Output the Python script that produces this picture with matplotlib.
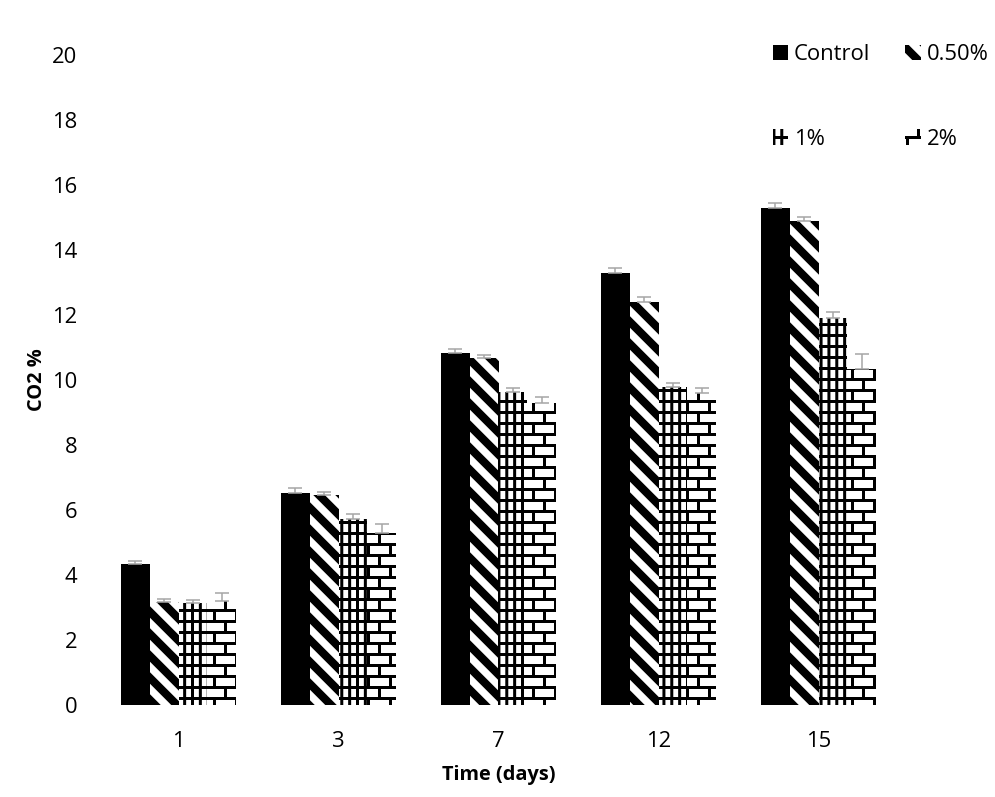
import warnings
import numpy as np
import matplotlib
matplotlib.use("Agg")
import matplotlib.pyplot as plt
import matplotlib.hatch as mhatch
from matplotlib.path import Path

warnings.filterwarnings("ignore")

# data
days = ["1", "3", "7", "12", "15"]
series = ["Control", "0.50%", "1%", "2%"]
control = [4.34, 6.52, 10.83, 13.3, 15.3]
pct050 = [3.17, 6.46, 10.68, 12.4, 14.9]
pct1 = [3.13, 5.72, 9.63, 9.8, 11.9]
pct2 = [3.2, 5.28, 9.3, 9.6, 10.35]
err_control = [0.1, 0.15, 0.12, 0.15, 0.15]
err_050 = [0.1, 0.1, 0.08, 0.15, 0.12]
err_1 = [0.1, 0.15, 0.12, 0.12, 0.2]
err_2 = [0.25, 0.3, 0.18, 0.15, 0.45]

DPI = 110


# custom hatch patterns (thick stripes, grid, bricks)
def make_hatch(char, segs):
    segs = np.asarray(segs, dtype=float)

    class _Hatch(mhatch.HatchPatternBase):
        def __init__(self, hatch, density):
            self.num_vertices = len(segs) * 2 if char in hatch else 0

        def set_vertices_and_codes(self, vertices, codes):
            vertices[:] = segs.reshape(-1, 2)
            codes[0::2] = Path.MOVETO
            codes[1::2] = Path.LINETO

    mhatch._hatch_types.append(_Hatch)


stripes = []
for k in range(-1, 12):
    for off in (-0.033, -0.011, 0.011, 0.033):
        c = 0.2 * k + off
        stripes.append([[-0.5, c + 0.5], [1.5, c - 1.5]])
make_hatch("s", stripes)

grid = []
for i in range(14):
    xv = (i + 0.5) / 14
    grid.append([[xv, -0.1], [xv, 1.1]])
for j in range(10):
    yv = (j + 0.5) / 10
    grid.append([[-0.1, yv], [1.1, yv]])
make_hatch("g", grid)

bricks = []
for j in range(-1, 10):
    y0 = (j + 0.5) / 10
    y1 = (j + 1.5) / 10
    if j >= 0:
        bricks.append([[-0.1, y0], [1.1, y0]])
    for m in range(-1, 6):
        xv = (m + 0.25 + 0.5 * (j % 2)) / 5
        bricks.append([[xv, y0], [xv, y1]])
make_hatch("b", bricks)

plt.rcParams["font.family"] = ["Open Sans", "DejaVu Sans"]
plt.rcParams["hatch.linewidth"] = 3 * 72 / DPI

fig = plt.figure(figsize=(995 / DPI, 797 / DPI), dpi=DPI)
ax = fig.add_axes([98.5 / 995, 92 / 797, 800 / 995, 650 / 797])

x = np.arange(len(days))
w = 0.18
values = [control, pct050, pct1, pct2]
errors = [err_control, err_050, err_1, err_2]
hatches = [None, "s", "g", "b"]

bars = []
for i, (name, vals, err, h) in enumerate(zip(series, values, errors, hatches)):
    pos = x + (i - 1.5) * w
    if h is None:
        b = ax.bar(pos, vals, w, color="black", linewidth=0, label=name)
    else:
        b = ax.bar(pos, vals, w, facecolor="white", edgecolor="black",
                   linewidth=0, hatch=h, label=name)
    bars.append(b)
    ax.errorbar(pos, vals, yerr=[np.zeros(len(vals)), err], fmt="none",
                ecolor="#a6a6a6", elinewidth=1, capsize=4.3, capthick=1)

ax.set_xlim(-0.5, 4.5)
ax.set_ylim(0, 20)
ax.set_xticks(x)
ax.set_xticklabels(days)
ax.set_yticks(np.arange(0, 21, 2))
for s in ax.spines.values():
    s.set_visible(False)
fs = 22 * 72 / DPI
ax.tick_params(axis="x", length=0, pad=17, labelsize=fs)
ax.tick_params(axis="y", length=0, pad=13.7, labelsize=fs)

lfs = 20 * 72 / DPI
ax.set_xlabel("Time (days)", fontsize=lfs, fontweight="bold")
ax.set_ylabel("CO2 %", fontsize=lfs, fontweight="bold")
ax.xaxis.set_label_coords(0.5, -0.093)
ax.yaxis.set_label_coords(-0.064, 0.5)

# row-wise legend order: Control, 0.50% / 1%, 2%
order = [0, 2, 1, 3]
ax.legend([bars[k] for k in order], [series[k] for k in order],
          ncol=2, loc="upper left", bbox_to_anchor=(773 / 995, 1 - 44 / 797),
          bbox_transform=fig.transFigure, frameon=False, fontsize=fs,
          handlelength=0.7, handleheight=0.7, handletextpad=0.25,
          columnspacing=1.6, labelspacing=2.9, borderpad=0, borderaxespad=0)

fig.savefig("out.png", dpi=DPI)
